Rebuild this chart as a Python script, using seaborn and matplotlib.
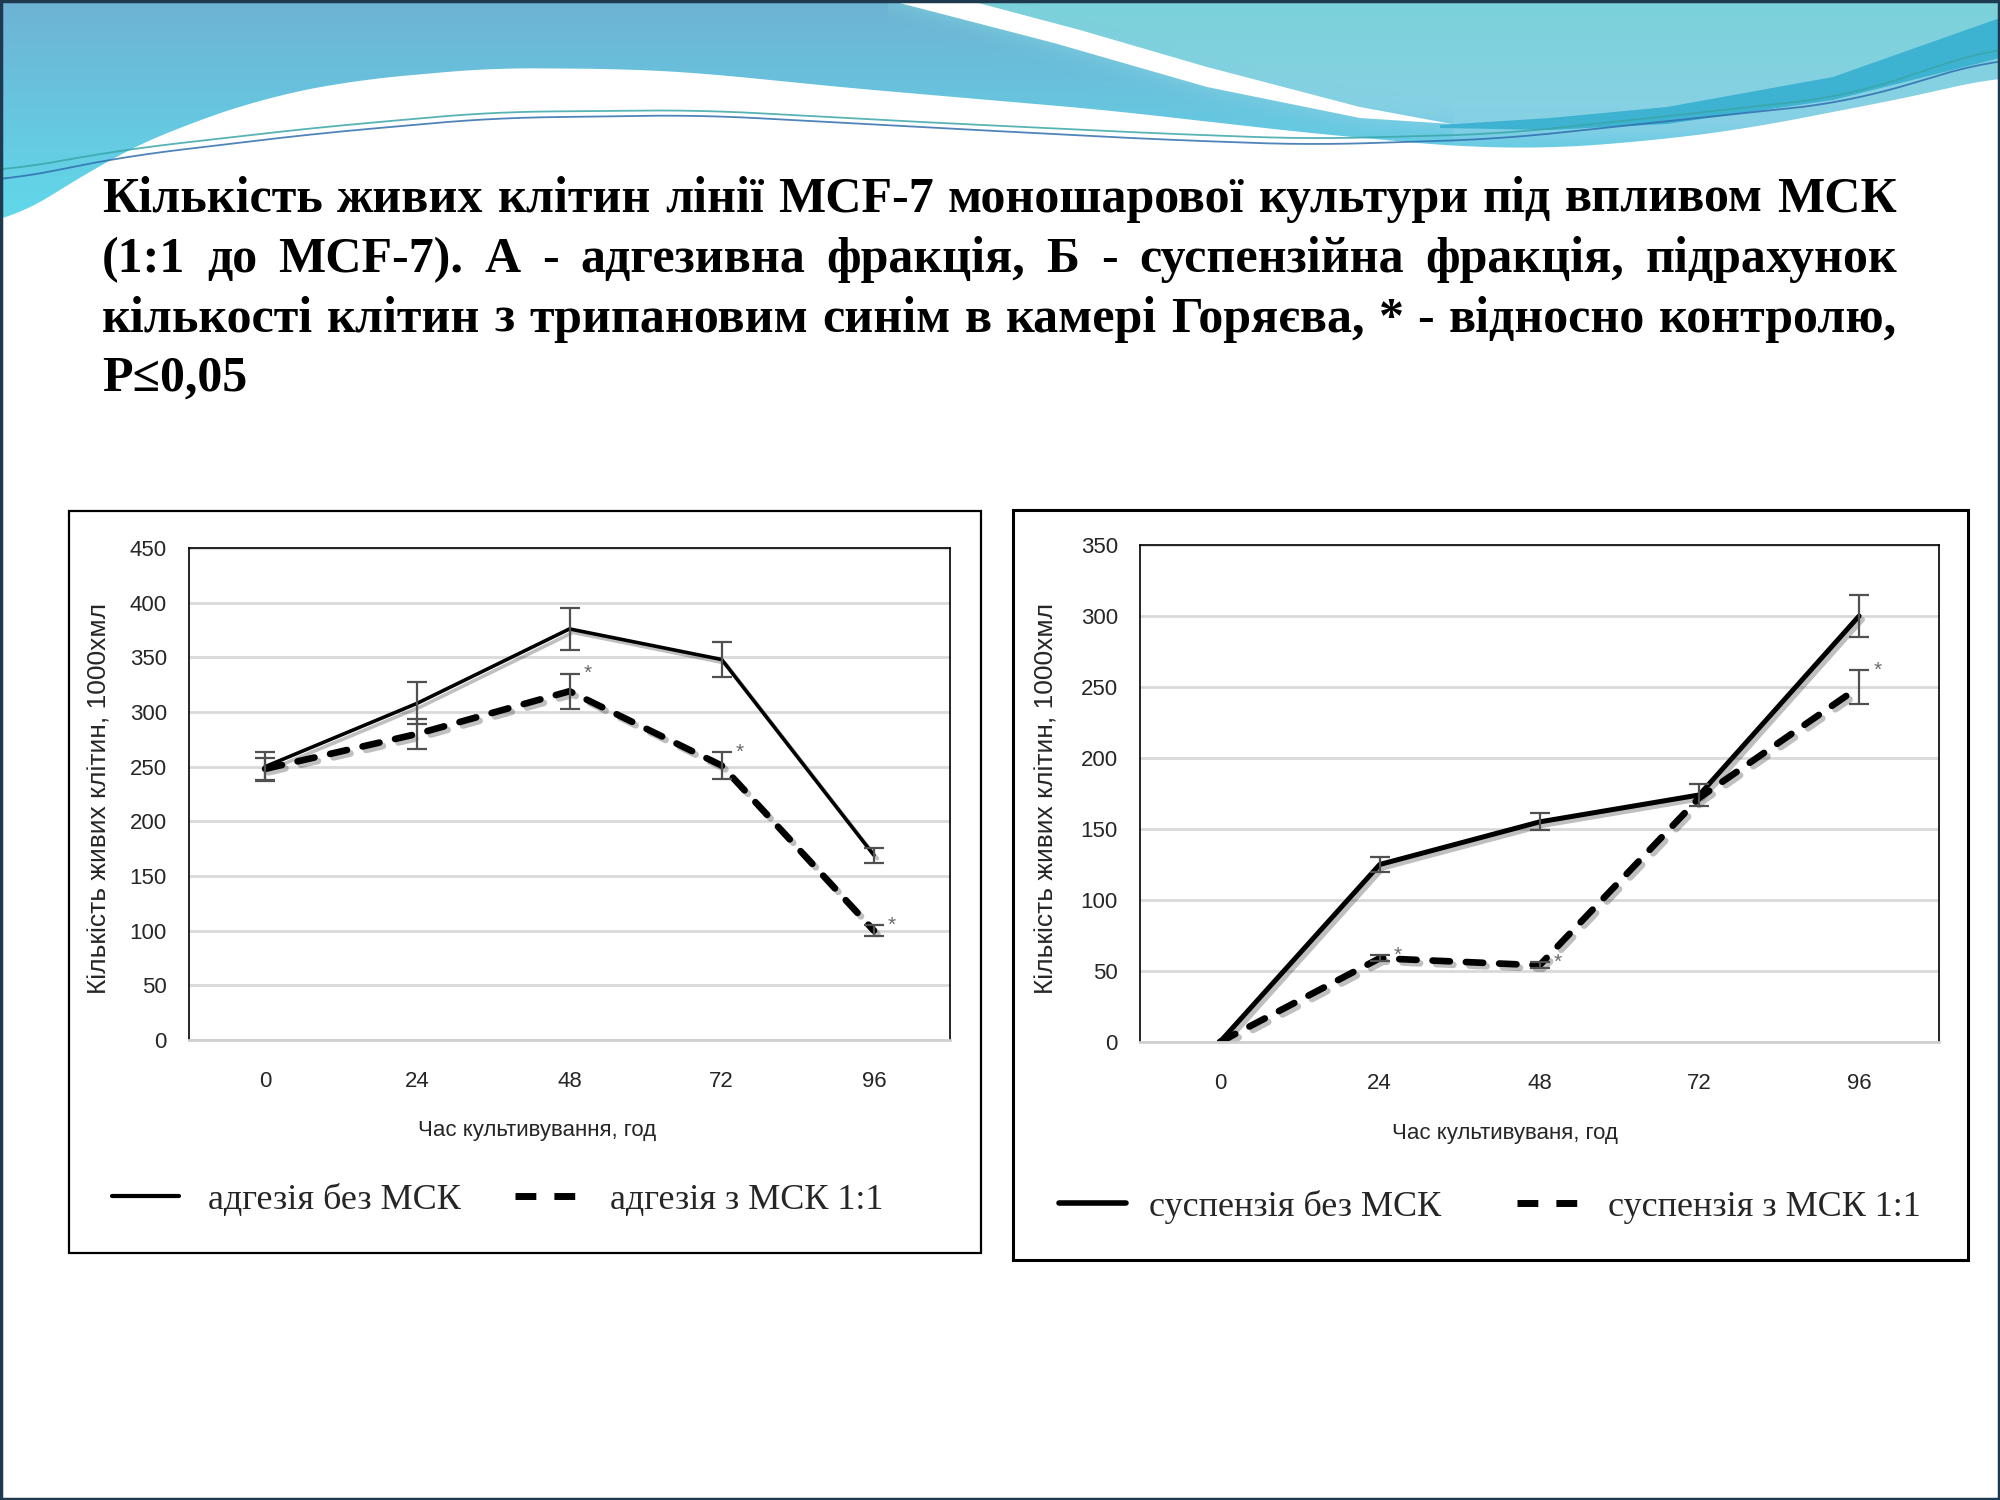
import matplotlib
matplotlib.use('Agg')
import matplotlib.pyplot as plt
import matplotlib.patheffects as pe
from matplotlib.patches import Rectangle, Polygon
from matplotlib.lines import Line2D
import seaborn as sns
import pandas as pd
import numpy as np

# ---- data ----
hours = ['0', '24', '48', '72', '96']

adh_ctrl = [250, 308, 376, 348, 169]
adh_ctrl_err = [13, 19, 19, 16, 7]
adh_msc = [248, 280, 319, 251, 100]
adh_msc_err = [10, 14, 16, 12, 5]
adh_marks = [False, False, True, True, True]
adh_names = ['адгезія без МСК', 'адгезія з МСК 1:1']

susp_ctrl = [0, 125, 155, 174, 300]
susp_ctrl_err = [0, 5, 6, 8, 15]
susp_msc = [0, 59, 54, 172, 250]
susp_msc_err = [0, 2, 2, 0, 12]
susp_marks = [False, True, True, False, True]
susp_names = ['суспензія без МСК', 'суспензія з МСК 1:1']

title_lines = [
    'Кількість живих клітин лінії MCF-7 моношарової культури під впливом МСК',
    '(1:1 до MCF-7). А - адгезивна фракція, Б - суспензійна фракція, підрахунок',
    'кількості клітин з трипановим синім в камері Горяєва, * - відносно контролю,',
    'P≤0,05',
]

x_label = 'Час культивування, год'
x_label_susp = 'Час культивуваня, год'
y_label = 'Кількість живих клітин, 1000хмл'

sns.set_theme(style='white')
plt.rcParams['font.family'] = ['Liberation Sans', 'DejaVu Sans']
SANS = ['Liberation Sans', 'DejaVu Sans']
SERIF = ['Liberation Serif', 'DejaVu Serif']

W, H = 2000, 1500
fig = plt.figure(figsize=(20, 15), dpi=100)
fig.patch.set_facecolor('white')

# background layer in pixel coordinates
bg = fig.add_axes([0, 0, 1, 1], zorder=-5)
bg.set_xlim(0, W)
bg.set_ylim(H, 0)
bg.axis('off')


def smooth_curve(pts, win=90):
    """dense, smoothed version of a rough outline"""
    px, py = zip(*pts)
    cx = np.arange(0, W + 1, dtype=float)
    cy = np.interp(cx, px, py)
    pad = np.pad(cy, win, mode='edge')
    kern = np.ones(2 * win + 1) / (2 * win + 1)
    return cx, np.convolve(pad, kern, mode='same')[win:-win]


# ---- header wave ----
edge_pts = [(0, 226), (45, 200), (112, 157), (179, 127), (268, 97), (357, 80),
            (491, 68), (625, 69), (700, 73), (850, 88), (1105, 110), (1309, 133),
            (1462, 147), (1560, 148), (1667, 139), (1750, 128), (1833, 112),
            (1920, 95), (2000, 76)]
xs, ys = smooth_curve(edge_pts, 50)
header = Polygon([(0, 0), (W, 0)] + list(zip(xs[::-1], ys[::-1])), closed=True,
                 facecolor='none', edgecolor='none')
bg.add_patch(header)

# swoosh edges (lower edge / upper edge)
sw_lo = [(888, 0), (1054, 43), (1207, 87), (1360, 118), (1452, 124)]
sw_hi = [(1452, 124), (1360, 107), (1207, 67), (1080, 30), (967, 0)]

gy, gx = np.mgrid[0:240, 0:W]
t = np.clip(gy / 220.0, 0, 1)[..., None]
left_top = np.array([0.43, 0.70, 0.83])
left_bot = np.array([0.38, 0.85, 0.92])
right_top = np.array([0.48, 0.82, 0.85])
right_bot = np.array([0.58, 0.82, 0.94])
lx_, ly_ = zip(*sw_lo)
ys_curve = np.interp(np.arange(W), lx_, ly_, left=-200, right=124)
ys_curve[np.arange(W) > 1452] = 135
mix = (1 / (1 + np.exp(-(ys_curve[None, :] - gy) / 6.0)))[..., None]
img = ((1 - mix) * (left_top * (1 - t) + left_bot * t)
       + mix * (right_top * (1 - t) + right_bot * t))
im = bg.imshow(img, extent=(0, W, 240, 0), origin='upper', zorder=0, aspect='auto')
im.set_clip_path(header)

# darker band along the lower right
band = [(1440, 125), (1550, 118), (1667, 107), (1833, 77), (2000, 18),
        (2000, 58), (1833, 100), (1667, 124), (1550, 130), (1440, 128)]
bg.add_patch(Polygon(band, closed=True, facecolor='#3db3d1', edgecolor='none', zorder=1))

# white swoosh from the top
bg.add_patch(Polygon(sw_lo + sw_hi, closed=True, facecolor='white', edgecolor='none', zorder=2))

# thin lines across the header
la = [(0, 172), (120, 150), (312, 128), (491, 112), (700, 110), (900, 121),
      (1148, 133), (1309, 139), (1500, 134), (1650, 118), (1850, 96), (2000, 45)]
lb = [(0, 182), (120, 157), (312, 134), (491, 118), (700, 115), (900, 126),
      (1148, 139), (1309, 145), (1500, 139), (1650, 123), (1850, 102), (2000, 57)]
for pts, col in [(la, '#3aa6a8'), (lb, '#2f6fae')]:
    cx, cy = smooth_curve(pts, 60)
    bg.plot(cx, cy, color=col, lw=1.3, alpha=0.85, zorder=3)

# slide frame
bg.add_patch(Rectangle((1, 1), W - 2, H - 2, fill=False, edgecolor='#1f3a4f', lw=2.5, zorder=4))

# ---- title, justified ----
renderer = fig.canvas.get_renderer()
x0, x1 = 102, 1897
baselines = [212, 272, 332, 391]
fs = 37


def text_width(s, size):
    tt = bg.text(0, 0, s, fontsize=size, fontweight='bold', family=SERIF)
    w = tt.get_window_extent(renderer).width
    tt.remove()
    return w


while max(text_width(s, fs) for s in title_lines[:3]) > (x1 - x0) and fs > 20:
    fs -= 0.5

for k, line in enumerate(title_lines):
    words = line.split(' ')
    if k == len(title_lines) - 1:
        bg.text(x0, baselines[k], line, fontsize=fs, fontweight='bold', family=SERIF,
                va='baseline', ha='left', color='black', zorder=5)
        continue
    widths = [text_width(w, fs) for w in words]
    gap = (x1 - x0 - sum(widths)) / (len(words) - 1)
    cx = x0
    for w, wd in zip(words, widths):
        bg.text(cx, baselines[k], w, fontsize=fs, fontweight='bold', family=SERIF,
                va='baseline', ha='left', color='black', zorder=5)
        cx += wd + gap

# chart frames
bg.add_patch(Rectangle((69, 511), 912, 742, fill=False, edgecolor='black', lw=1.6, zorder=4))
bg.add_patch(Rectangle((1013, 510), 955, 750, fill=False, edgecolor='black', lw=2.2, zorder=4))


def draw_panel(ax, ctrl, ctrl_err, msc, msc_err, marks, names, ymax, solid_lw, xlab):
    pos = np.arange(len(hours))
    df = pd.DataFrame({
        'pos': np.tile(pos, 2),
        'value': ctrl + msc,
        'series': [names[0]] * len(hours) + [names[1]] * len(hours),
    })
    sns.lineplot(data=df, x='pos', y='value', style='series',
                 dashes={names[0]: '', names[1]: (2.6, 2.4)},
                 color='black', legend=False, ax=ax, zorder=2)
    ax.lines[0].set_linewidth(solid_lw)
    ax.lines[1].set_linewidth(4.8)
    ax.lines[1].set_dash_capstyle('round')
    for ln in ax.lines:
        ln.set_solid_joinstyle('round')
        ln.set_path_effects([pe.SimpleLineShadow(offset=(2.5, -2.5), alpha=0.28),
                             pe.Normal()])

    for vals, err in [(ctrl, ctrl_err), (msc, msc_err)]:
        vals = np.array(vals, dtype=float)
        err = np.array(err, dtype=float)
        m = err > 0
        ax.errorbar(pos[m], vals[m], yerr=err[m], fmt='none', ecolor='#505050',
                    elinewidth=1.6, capsize=7, capthick=1.6, zorder=3)

    for i, flag in enumerate(marks):
        if flag:
            ax.text(i + 0.09, msc[i] + msc_err[i], '*', color='#6a6a6a', fontsize=15,
                    ha='left', va='center', zorder=4)

    ax.set_xlim(-0.5, len(hours) - 0.5)
    ax.set_ylim(0, ymax)
    ax.set_yticks(np.arange(0, ymax + 1, 50))
    ax.set_xticks(pos)
    ax.set_xticklabels(hours)
    ax.yaxis.grid(True, color='#d9d9d9', lw=2)
    ax.xaxis.grid(False)
    ax.set_axisbelow(True)
    for side in ['top', 'left', 'right']:
        ax.spines[side].set_visible(True)
        ax.spines[side].set_color('black')
        ax.spines[side].set_linewidth(1.2)
    ax.spines['bottom'].set_color('#d0d0d0')
    ax.spines['bottom'].set_linewidth(2)
    ax.tick_params(axis='both', length=0, labelsize=16, colors='#262626')
    ax.tick_params(axis='y', pad=16)
    ax.tick_params(axis='x', pad=22)
    ax.set_xlabel(xlab, fontsize=16, family=SANS, color='#262626')
    ax.xaxis.set_label_coords(0.457, -0.163)
    ax.set_ylabel(y_label, fontsize=19, color='#262626')
    ax.yaxis.set_label_coords(-0.102, 0.49)


ax_a = fig.add_axes([189 / W, 1 - 1040 / H, 761 / W, 492 / H])
ax_b = fig.add_axes([1140 / W, 1 - 1042 / H, 799 / W, 497 / H])
draw_panel(ax_a, adh_ctrl, adh_ctrl_err, adh_msc, adh_msc_err, adh_marks, adh_names,
           450, 2.6, x_label)
draw_panel(ax_b, susp_ctrl, susp_ctrl_err, susp_msc, susp_msc_err, susp_marks, susp_names,
           350, 3.6, x_label_susp)

# legends under each chart
legend_specs = [
    (ax_a, adh_names, (112 / W, 1 - 1200 / H), 3.0, 0.8, 1.5),
    (ax_b, susp_names, (1059 / W, 1 - 1207 / H), 4.0, 0.65, 2.1),
]
for ax, names, anchor, solid_lw, tpad, cspace in legend_specs:
    handles = [Line2D([], [], color='black', lw=solid_lw),
               Line2D([], [], color='black', lw=5, dashes=(3.0, 2.6), dash_capstyle='butt')]
    ax.legend(handles, names, loc='center left', bbox_to_anchor=anchor,
              bbox_transform=fig.transFigure, ncol=2, frameon=False,
              handlelength=1.85, handletextpad=tpad, columnspacing=cspace,
              borderaxespad=0, borderpad=0,
              prop={'family': SERIF, 'size': 26})

fig.savefig('out.png', dpi=100, facecolor='white')
